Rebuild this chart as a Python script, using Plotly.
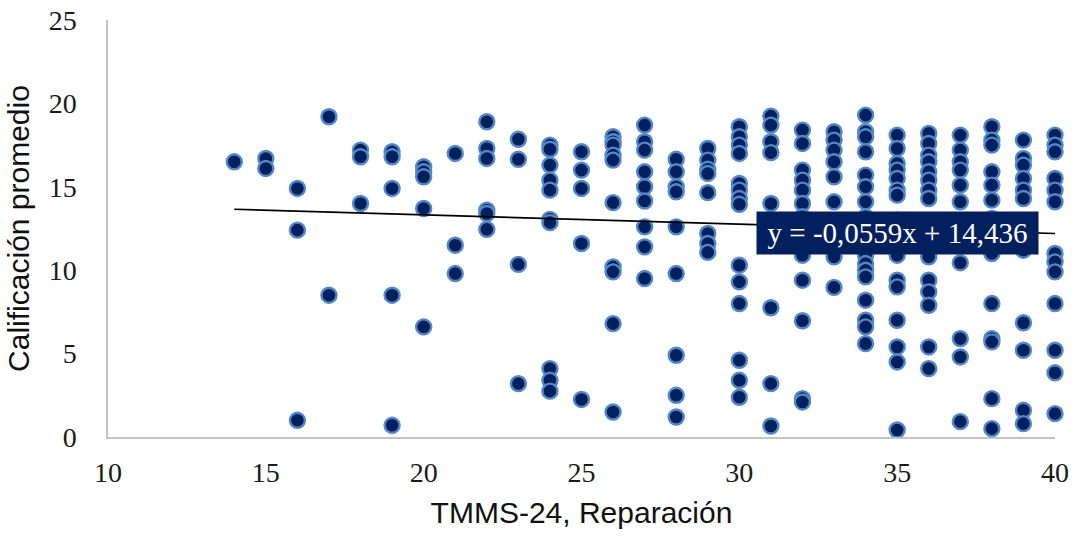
import plotly.graph_objects as go

# Calificación promedio de cada estudiante, agrupada por su puntaje TMMS-24 (Reparación)
r14 = [16.5]
r15 = [16.7, 16.1]
r16 = [14.9, 12.4, 1.0]
r17 = [19.2, 8.5]
r18 = [17.2, 16.8, 14.0]
r19 = [17.1, 16.8, 14.9, 8.5, 0.7]
r20 = [16.2, 15.9, 15.6, 13.7, 6.6]
r21 = [17.0, 11.5, 9.8]
r22 = [18.9, 17.3, 16.7, 13.6, 13.4, 12.45]
r23 = [17.85, 16.65, 10.35, 3.2]
r24 = [17.5, 17.25, 16.3, 15.4, 14.8, 13.05, 12.85, 4.1, 3.4, 2.75]
r25 = [17.1, 16.0, 14.9, 11.6, 2.25]
r26 = [18.0, 17.7, 17.5, 16.9, 16.6, 14.05, 10.2, 9.9, 6.8, 1.5]
r27 = [18.7, 17.7, 17.2, 15.9, 15.0, 14.15, 12.6, 11.4, 9.5]
r28 = [16.65, 15.9, 15.0, 14.7, 12.6, 9.8, 4.9, 2.5, 1.2]
r29 = [17.3, 16.6, 16.05, 15.8, 14.65, 12.2, 11.6, 11.07]
r30 = [18.6, 18.0, 17.5, 17.0, 15.2, 14.8, 14.3, 13.95, 10.3, 9.3, 8.0, 4.6, 3.4, 2.38]
r31 = [19.24, 18.7, 17.7, 17.05, 14.0, 12.8, 7.75, 3.2, 0.66]
r32 = [18.4, 17.6, 16.0, 15.4, 14.8, 14.0, 13.2, 12.5, 10.9, 9.4, 6.97, 2.3, 2.1]
r33 = [18.3, 17.8, 17.2, 16.5, 15.6, 14.1, 12.9, 11.8, 10.8, 8.97]
r34 = [19.3, 18.3, 18.0, 17.1, 15.7, 15.0, 14.1, 13.2, 12.4, 11.6, 10.9, 10.4, 10.0, 9.6, 8.2, 7.0, 6.6, 5.6]
r35 = [18.1, 17.3, 16.4, 16.0, 15.5, 14.8, 14.5, 13.0, 12.2, 11.5, 10.9, 9.4, 9.0, 7.0, 5.4, 4.5, 0.42]
r36 = [18.2, 17.6, 16.9, 16.5, 15.9, 15.4, 14.8, 14.3, 12.9, 11.9, 10.8, 9.4, 8.7, 7.9, 5.4, 4.1]
r37 = [18.1, 17.2, 16.5, 16.0, 15.1, 14.1, 12.6, 10.45, 5.9, 4.8, 0.92]
r38 = [18.6, 17.8, 17.5, 15.9, 15.1, 14.2, 13.1, 12.0, 11.0, 8.0, 5.9, 5.7, 2.3, 0.5]
r39 = [17.8, 16.7, 16.3, 15.5, 14.8, 14.3, 12.7, 11.2, 6.85, 5.2, 1.6, 0.8]
r40 = [18.1, 17.5, 17.1, 15.5, 14.8, 14.1, 11.0, 10.5, 9.9, 8.0, 5.2, 3.85, 1.4]

puntajes = list(range(14, 41))
grupos = [r14, r15, r16, r17, r18, r19, r20, r21, r22, r23, r24, r25, r26, r27,
          r28, r29, r30, r31, r32, r33, r34, r35, r36, r37, r38, r39, r40]

# Recta de tendencia lineal
pendiente = -0.0559
intercepto = 14.436
tendencia_x = [14, 40]

x_ticks = [10, 15, 20, 25, 30, 35, 40]
y_ticks = [0, 5, 10, 15, 20, 25]

xs, ys = [], []
for p, g in zip(puntajes, grupos):
    xs.extend([p] * len(g))
    ys.extend(g)

fig = go.Figure()
fig.add_trace(go.Scatter(
    x=xs, y=ys, mode="markers",
    marker=dict(size=15, color="#03205E", line=dict(color="#5388C8", width=2.4)),
    cliponaxis=False, showlegend=False, hoverinfo="x+y",
))
fig.add_trace(go.Scatter(
    x=tendencia_x, y=[pendiente * v + intercepto for v in tendencia_x],
    mode="lines", line=dict(color="black", width=1.6),
    showlegend=False, hoverinfo="skip",
))

def coma(v, d):
    return f"{v:.{d}f}".replace(".", ",")

ecuacion = f"y = -{coma(abs(pendiente), 4)}x + {coma(intercepto, 3)}"
fig.add_annotation(
    x=35, y=12.23, xref="x", yref="y", text=ecuacion, showarrow=False,
    xanchor="center", yanchor="middle",
    font=dict(family="Liberation Serif", size=29, color="white"),
    bgcolor="#03205E", width=271, height=32, borderpad=5,
)

axis_common = dict(
    showgrid=False, zeroline=False, showline=True, linecolor="#C4C4C4", linewidth=1.5,
    tickfont=dict(family="Liberation Serif", size=28, color="#1A1A1A"),
    ticks="", fixedrange=True,
)
fig.update_xaxes(
    range=[10, 40], tickvals=x_ticks, ticklabelstandoff=10,
    title=dict(text="TMMS-24, Reparación", standoff=15,
               font=dict(family="Liberation Sans", size=30, color="#111111")),
    **axis_common,
)
fig.update_yaxes(
    range=[0, 25], tickvals=y_ticks, ticklabelstandoff=24,
    title=dict(text="Calificación promedio", standoff=10,
               font=dict(family="Liberation Sans", size=30, color="#111111")),
    **axis_common,
)
fig.update_layout(
    width=1077, height=536,
    margin=dict(l=108, r=22, t=20, b=99, autoexpand=False),
    plot_bgcolor="white", paper_bgcolor="white",
)
fig.write_html("out.html")
